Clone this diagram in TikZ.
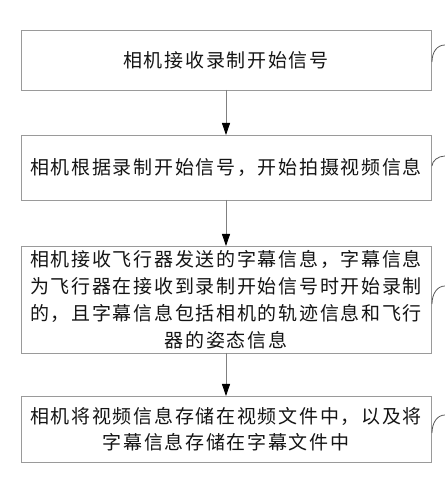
\documentclass[tikz,border=0pt]{standalone}
\usepackage{fontspec}
\usepackage{xcolor}
\usetikzlibrary{arrows.meta,positioning}
\newfontfamily\cjk[LetterSpace=9]{Noto Sans CJK SC}
\definecolor{boxgray}{HTML}{9A9A9A}
\definecolor{txtgray}{HTML}{141414}

\begin{document}
\begin{tikzpicture}[x=1pt, y=1pt, >={Triangle[width=8pt,length=12pt,color=black]},
  stepbox/.style={draw=boxgray, line width=0.9pt, minimum width=410pt, inner sep=2pt, outer sep=0pt, align=center, text=txtgray, font=\cjk\fontsize{19}{24}\selectfont},
  flow/.style={->, draw=gray, line width=0.8pt},
  lead/.style={draw=gray!70!black, line width=0.8pt}]
\useasboundingbox (0,0) rectangle (445,483);
\node[stepbox, minimum height=60pt] (rec) at (226,423) {相机接收录制开始信号};
\node[stepbox, minimum height=65pt, below=45pt of rec] (shoot) {相机根据录制开始信号，开始拍摄视频信息};
\node[stepbox, minimum height=107pt, below=46pt of shoot] (sub) {相机接收飞行器发送的字幕信息，字幕信息\\[3pt]为飞行器在接收到录制开始信号时开始录制\\[3pt]的，且字幕信息包括相机的轨迹信息和飞行\\[3pt]器的姿态信息};
\node[stepbox, minimum height=66pt, below=43pt of sub] (store) {相机将视频信息存储在视频文件中，以及将\\[2pt]字幕信息存储在字幕文件中};
\draw[flow] (rec) -- (shoot);
\draw[flow] (shoot) -- (sub);
\draw[flow] (sub) -- (store);
% leader lines, cut at the right edge
\coordinate (t1) at (445,438);
\coordinate (t2) at (445,327);
\coordinate (t3) at (445,197);
\coordinate (t4) at (445,68);
\draw[lead] ([xshift=1pt,yshift=-2pt]rec.east) .. controls +(0,10) and +(-8,0) .. (t1);
\draw[lead] ([xshift=1pt,yshift=1.5pt]shoot.east) .. controls +(0,5) and +(-7,0) .. (t2);
\draw[lead] ([xshift=1pt,yshift=-4.5pt]sub.east) .. controls +(0,10) and +(-8,0) .. (t3);
\draw[lead] ([xshift=1pt,yshift=-4pt]store.east) .. controls +(0,10) and +(-8,0) .. (t4);
\end{tikzpicture}
\end{document}
